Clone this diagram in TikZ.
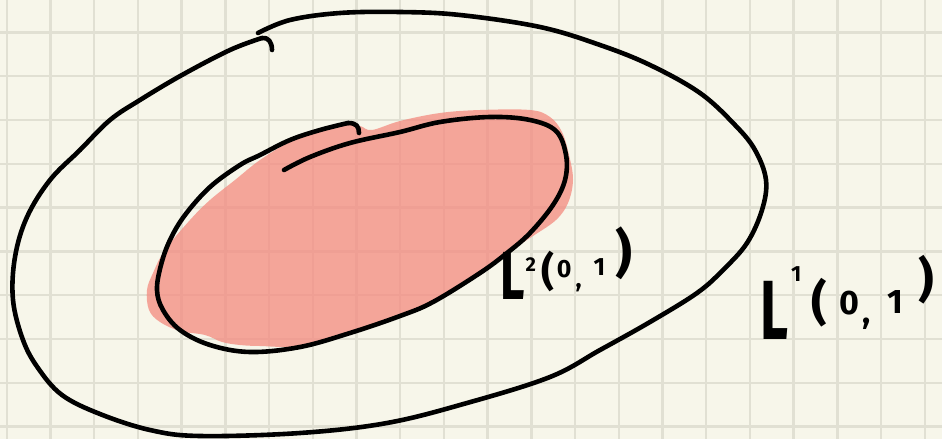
\documentclass[tikz,border=0pt]{standalone}
\usepackage{fontspec}
\setmainfont{Fira Sans}
\definecolor{paper}{HTML}{F7F6EA}
\definecolor{gridc}{HTML}{E1E0D3}
\definecolor{blob}{RGB}{244,138,127}
\newcommand\hwtxt[2]{{\fontsize{#1}{#1}\selectfont #2}}
\newcommand\hwup[3]{\raisebox{#1pt}{\hwtxt{#2}{#3}}}
\begin{document}
\begin{tikzpicture}[x=1pt,y=-1pt,
  ink/.style={line width=4.6pt, line cap=round, line join=round},
  gridline/.style={gridc, line width=2.4pt},
  lbl/.style={anchor=base west, inner sep=0pt, text=black, font=\bfseries}]
\useasboundingbox (0,0) rectangle (942,439);
\fill[paper] (0,0) rectangle (942,439);
\foreach \k in {0,...,21} \draw[gridline] ({6.7+43.72*\k},0) -- ({6.7+43.72*\k},439);
\foreach \k in {0,...,9} \draw[gridline] (0,{32.3+43.8*\k}) -- (942,{32.3+43.8*\k});
% L2 region fill
\fill[blob, fill opacity=0.75] plot[smooth cycle, tension=0.6] coordinates {
 (360,126) (372,130) (400,121) (440,113) (480,110) (530,110) (550,117) (562,132)
 (569,155) (573,180) (568,203) (556,220) (533,236) (507,253) (480,273) (433,302)
 (400,316) (350,333) (300,346) (260,346) (240,345) (222,342) (205,335) (180,331)
 (160,322) (149,310) (147,290) (153,273) (165,250) (190,220) (210,200) (235,180)
 (260,160) (290,142) (320,131) (345,125)};
% outer curve L1
\draw[ink] plot[smooth, tension=0.6] coordinates {
 (258,33) (290,20) (340,13) (400,12) (460,15) (540,27) (600,45) (650,65) (700,93)
 (735,125) (755,150) (766,180) (762,210) (747,243) (723,270) (697,293) (650,322)
 (600,350) (550,377) (467,403) (387,423) (300,433) (200,436) (150,430) (100,414)
 (62,395) (38,368) (23,340) (13,300) (15,257) (27,217) (50,180) (80,150) (110,120)
 (140,100) (182,75) (230,50) (262,38)};
\draw[ink] (262,38) .. controls (268,37) and (272,42) .. (272,50);
% inner curve L2
\draw[ink] plot[smooth, tension=0.6] coordinates {
 (348,123) (320,130) (290,140) (260,155) (240,165) (210,187) (185,215) (170,240)
 (161,265) (157,290) (163,310) (180,330) (210,345) (250,352) (300,347) (350,333)
 (400,316) (433,302) (480,273) (507,253) (530,233) (553,205) (565,180) (566,155)
 (556,131) (530,120) (490,117) (440,122) (400,132) (350,143) (310,157) (284,170)};
\draw[ink] (348,123) .. controls (356,123) and (359,126) .. (359,133);
% labels
\node[lbl] (l2) at (500,299) {\scalebox{0.7}[1]{\hwtxt{68}{L}}\kern1pt\hwup{28}{20}{2}\kern6pt\hwup{14}{40}{(}\kern2pt\hwup{22}{25}{0}\kern4pt\hwup{12}{25}{,}\kern12pt\hwup{24}{25}{1}\kern10pt\hwup{28}{52}{)}};
\node[lbl] (l1) at (760,339) {\scalebox{0.65}[1]{\hwtxt{84}{L}}\kern3pt\hwup{58}{22}{1}\kern10pt\hwup{20}{48}{(}\kern12pt\hwup{25}{34}{0}\kern4pt\hwup{16}{34}{,}\kern16pt\hwup{26}{34}{1}\kern16pt\hwup{43}{48}{)}};
\end{tikzpicture}
\end{document}
